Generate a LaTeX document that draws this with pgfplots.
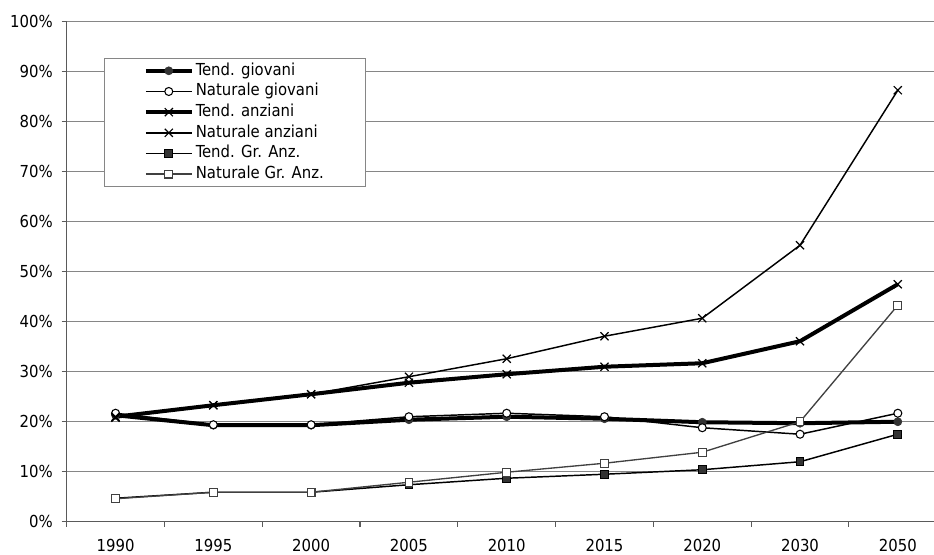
\documentclass[border=0pt]{standalone}
\usepackage{pgfplots}
\pgfplotsset{compat=1.18}
\usepackage{fontspec}
\setmainfont{DejaVu Sans Condensed}

\definecolor{gridgray}{RGB}{134,134,134}
\definecolor{axisgray}{RGB}{90,90,90}
\definecolor{darkfill}{RGB}{51,51,51}
\definecolor{lightline}{RGB}{64,64,64}

\begin{document}
\begin{tikzpicture}
\begin{axis}[
    scale only axis,
    width=650.5pt, height=375pt,
    xmin=-0.5, xmax=8.37, ymin=0, ymax=100,
    axis x line*=bottom, axis y line*=left,
    axis line style={draw=axisgray, line width=1.1pt, -},
    xtick={0,...,8},
    xticklabels={1990,1995,2000,2005,2010,2015,2020,2030,2050},
    x tick style={draw=none},
    extra x ticks={-0.5,0.5,1.5,2.5,3.5,4.5,5.5,6.5,7.5},
    extra x tick labels={},
    extra x tick style={x tick style={draw=axisgray, line width=0.8pt}, grid=none},
    ytick={0,10,...,100},
    yticklabel={\pgfmathprintnumber{\tick}\%},
    y tick style={draw=axisgray, line width=0.8pt},
    tick align=outside, major tick length=3.75pt,
    ymajorgrids,
    major grid style={draw=gridgray, line width=0.75pt},
    /pgf/number format/assume math mode=true,
    ticklabel style={font=\fontsize{12.4}{15}\selectfont},
    xticklabel style={anchor=north, inner sep=0pt, yshift=-8.8pt},
    yticklabel style={anchor=east, inner sep=0pt, xshift=-6.5pt},
    clip=false,
    legend cell align=left,
    legend style={at={(0.043,0.9275)}, anchor=north west,
        draw=gridgray, line width=0.75pt, fill=white,
        font=\fontsize{12.4}{15}\selectfont,
        inner xsep=29.5pt, inner ysep=1.5pt, row sep=0pt,
        nodes={inner sep=1.5pt, text height=9.5pt, text depth=3pt}},
    legend image code/.code={\draw[mark repeat=2, mark phase=2, #1]
        plot coordinates {(0pt,0pt) (17.25pt,0pt) (34.5pt,0pt)};},
]
% Tend. giovani
\addplot[black, line width=3pt, mark=*, mark size=3pt,
    mark options={solid, fill=darkfill, draw=darkfill, line width=0.5pt}]
    coordinates {(0,21.3)(1,19.3)(2,19.3)(3,20.4)(4,21.0)(5,20.6)(6,19.9)(7,19.7)(8,20.0)};
% Naturale giovani
\addplot[black, line width=1.1pt, mark=*, mark size=3pt,
    mark options={solid, fill=white, draw=black, line width=0.8pt}]
    coordinates {(0,21.7)(1,19.4)(2,19.4)(3,21.0)(4,21.7)(5,21.0)(6,18.8)(7,17.5)(8,21.7)};
% Tend. anziani
\addplot[black, line width=3pt, mark=x, mark size=4.3pt,
    mark options={solid, line width=0.9pt}]
    coordinates {(0,21.0)(1,23.3)(2,25.5)(3,27.8)(4,29.5)(5,31.0)(6,31.7)(7,36.1)(8,47.5)};
% Naturale anziani
\addplot[black, line width=1.1pt, mark=x, mark size=4.3pt,
    mark options={solid, line width=0.9pt}]
    coordinates {(0,20.8)(1,23.3)(2,25.5)(3,29.0)(4,32.6)(5,37.1)(6,40.7)(7,55.3)(8,86.3)};
% Tend. Gr. Anz.
\addplot[black, line width=1.1pt, mark=square*, mark size=2.9pt,
    mark options={solid, fill=darkfill, draw=black, line width=0.8pt}]
    coordinates {(0,4.7)(1,5.9)(2,5.9)(3,7.4)(4,8.7)(5,9.5)(6,10.4)(7,12.0)(8,17.5)};
% Naturale Gr. Anz.
\addplot[lightline, line width=1pt, mark=square*, mark size=2.9pt,
    mark options={solid, fill=white, draw=lightline, line width=0.8pt}]
    coordinates {(0,4.6)(1,5.9)(2,5.9)(3,7.9)(4,9.9)(5,11.7)(6,13.9)(7,20.0)(8,43.3)};
\legend{Tend. giovani, Naturale giovani, Tend. anziani, Naturale anziani, Tend. Gr. Anz., Naturale Gr. Anz.}
\end{axis}
\pgfresetboundingbox
\path[use as bounding box] (-50pt,-24.2pt) rectangle (650.5pt,391.3pt);
\end{tikzpicture}
\end{document}
